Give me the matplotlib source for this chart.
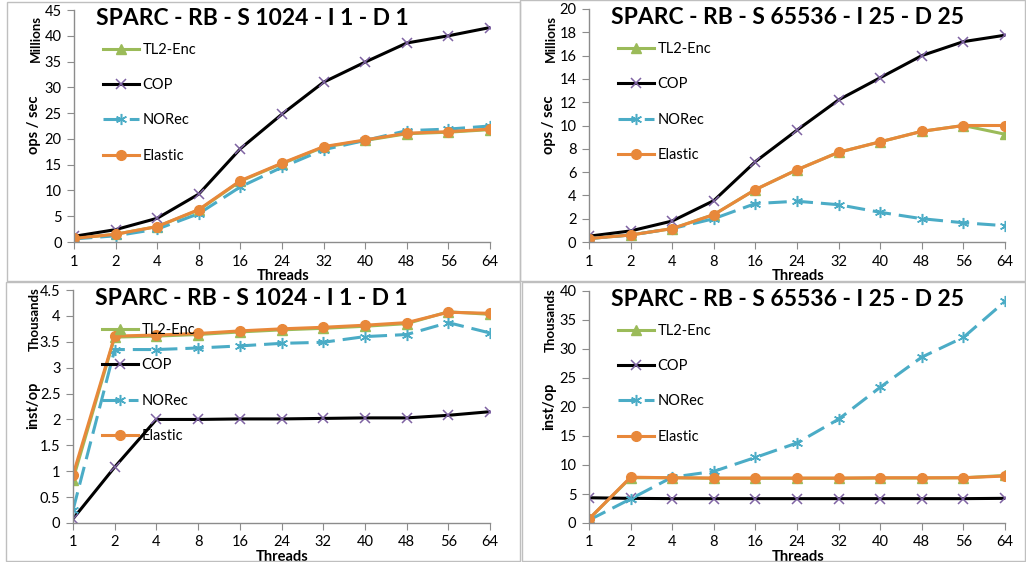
import matplotlib
matplotlib.use("Agg")
import matplotlib.pyplot as plt
from matplotlib.patches import Rectangle
from matplotlib.ticker import FuncFormatter

plt.rcParams['font.family'] = ['Lato', 'DejaVu Sans']

threads = ["1", "2", "4", "8", "16", "24", "32", "40", "48", "56", "64"]

# top left: ops/sec (millions), S 1024 - I 1 - D 1
tl_tl2 = [0.7, 1.5, 3.0, 6.2, 11.8, 15.2, 18.4, 19.7, 21.0, 21.3, 21.8]
tl_cop = [1.1, 2.4, 4.6, 9.3, 18.1, 24.8, 31.0, 34.9, 38.6, 40.0, 41.6]
tl_norec = [0.6, 1.2, 2.5, 5.5, 10.7, 14.5, 17.9, 19.7, 21.6, 21.9, 22.5]
tl_elastic = [0.7, 1.5, 3.0, 6.3, 11.9, 15.3, 18.5, 19.8, 21.1, 21.4, 21.9]

# top right: ops/sec (millions), S 65536 - I 25 - D 25
tr_tl2 = [0.3, 0.6, 1.15, 2.35, 4.5, 6.2, 7.7, 8.6, 9.5, 10.0, 9.25]
tr_cop = [0.5, 0.95, 1.8, 3.55, 6.9, 9.6, 12.2, 14.1, 16.0, 17.2, 17.75]
tr_norec = [0.3, 0.6, 1.15, 2.0, 3.3, 3.5, 3.2, 2.55, 2.0, 1.65, 1.4]
tr_elastic = [0.3, 0.6, 1.15, 2.35, 4.5, 6.2, 7.7, 8.6, 9.5, 10.0, 10.0]

# bottom left: inst/op (thousands), S 1024 - I 1 - D 1
bl_tl2 = [0.84, 3.59, 3.61, 3.64, 3.69, 3.73, 3.76, 3.80, 3.85, 4.08, 4.03]
bl_cop = [0.08, 1.08, 2.0, 2.0, 2.01, 2.01, 2.02, 2.03, 2.03, 2.08, 2.15]
bl_norec = [0.25, 3.35, 3.35, 3.38, 3.42, 3.47, 3.49, 3.60, 3.64, 3.87, 3.67]
bl_elastic = [0.93, 3.61, 3.63, 3.66, 3.71, 3.75, 3.78, 3.82, 3.87, 4.07, 4.05]

# bottom right: inst/op (thousands), S 65536 - I 25 - D 25
br_tl2 = [0.7, 7.8, 7.8, 7.7, 7.7, 7.7, 7.7, 7.75, 7.75, 7.8, 8.2]
br_cop = [4.35, 4.25, 4.2, 4.2, 4.2, 4.2, 4.2, 4.2, 4.2, 4.2, 4.25]
br_norec = [0.5, 4.15, 7.9, 8.9, 11.3, 13.8, 17.9, 23.4, 28.6, 32.0, 38.2]
br_elastic = [0.7, 7.9, 7.8, 7.75, 7.75, 7.75, 7.75, 7.8, 7.8, 7.8, 8.1]

W, H = 1026, 562
fig = plt.figure(figsize=(W / 100, H / 100), dpi=100)

# panel frames (pixels: x0, y0_top, x1, y1_bottom)
for x0, y0, x1, y1 in [(7, 2, 520, 281), (520, 0, 1025, 281),
                       (6, 282, 520, 561), (522, 282, 1025, 561)]:
    fig.patches.append(Rectangle((x0 / W, 1 - y1 / H), (x1 - x0) / W, (y1 - y0) / H,
                                 transform=fig.transFigure, fill=False,
                                 edgecolor='#BFBFBF', linewidth=1))

GREEN = '#9BBB59'
PURPLE = '#7F63A3'
TEAL = '#4BACC6'
ORANGE = '#E8883A'
AXIS = '#8C8C8C'


def make_panel(box, title, unit, ylabel, ymax, ystep, tl2, cop, norec, elastic):
    x0, y0, x1, y1 = box
    ax = fig.add_axes([x0 / W, 1 - y1 / H, (x1 - x0) / W, (y1 - y0) / H])
    xs = range(len(threads))
    ax.plot(xs, tl2, color=GREEN, lw=2.2, marker='^', ms=7, label='TL2-Enc')
    ax.plot(xs, cop, color='black', lw=2.2, marker='x', ms=7, mew=1.1,
            mec=PURPLE, label='COP')
    ax.plot(xs, norec, color=TEAL, lw=2.2, dashes=(6, 2.6), marker=(6, 2, 0),
            ms=8, mew=1.1, label='NORec')
    ax.plot(xs, elastic, color=ORANGE, lw=2.2, marker='o', ms=7, label='Elastic')

    ax.set_xlim(0, len(threads) - 1)
    ax.set_xticks(list(xs))
    ax.set_xticklabels(threads)
    ticks = []
    v = 0
    while v <= ymax + 1e-9:
        ticks.append(v)
        v += ystep
    ax.set_ylim(0, ymax)
    ax.set_yticks(ticks)
    ax.yaxis.set_major_formatter(FuncFormatter(lambda y, p: '%g' % round(y, 2)))

    for s in ['top', 'right']:
        ax.spines[s].set_visible(False)
    for s in ['left', 'bottom']:
        ax.spines[s].set_color(AXIS)
        ax.spines[s].set_linewidth(1)
    ax.tick_params(direction='out', length=5, color=AXIS, labelsize=10.5, pad=4)
    ax.tick_params(axis='x', pad=4)
    ax.set_facecolor('none')

    ax.text(0.053, 0.962, title, transform=ax.transAxes, fontsize=16.5,
            fontweight='bold', va='center', ha='left')
    ax.text(-0.092, 0.875, unit, transform=ax.transAxes, rotation=90,
            fontsize=9.5, fontweight='bold', va='center', ha='center')
    ax.text(-0.095, 0.504, ylabel, transform=ax.transAxes, rotation=90,
            fontsize=10.5, fontweight='bold', va='center', ha='center')
    ax.text(0.502, -0.145, 'Threads', transform=ax.transAxes, fontsize=10.5,
            fontweight='bold', va='center', ha='center')

    ax.legend(loc='upper left', bbox_to_anchor=(0.07, 0.857), frameon=False,
              fontsize=10.5, handlelength=2.45, handletextpad=0.25,
              labelspacing=1.45, borderpad=0, borderaxespad=0)
    return ax


make_panel((74, 10, 490, 242), 'SPARC - RB - S 1024 - I 1 - D 1', 'Millions',
           'ops / sec', 45, 5, tl_tl2, tl_cop, tl_norec, tl_elastic)
make_panel((589, 9, 1005, 242), 'SPARC - RB - S 65536 - I 25 - D 25', 'Millions',
           'ops / sec', 20, 2, tr_tl2, tr_cop, tr_norec, tr_elastic)
make_panel((73, 290, 490, 523), 'SPARC - RB - S 1024 - I 1 - D 1', 'Thousands',
           'inst/op', 4.5, 0.5, bl_tl2, bl_cop, bl_norec, bl_elastic)
make_panel((589, 291, 1005, 523), 'SPARC - RB - S 65536 - I 25 - D 25', 'Thousands',
           'inst/op', 40, 5, br_tl2, br_cop, br_norec, br_elastic)

fig.savefig('out.png', dpi=100)
